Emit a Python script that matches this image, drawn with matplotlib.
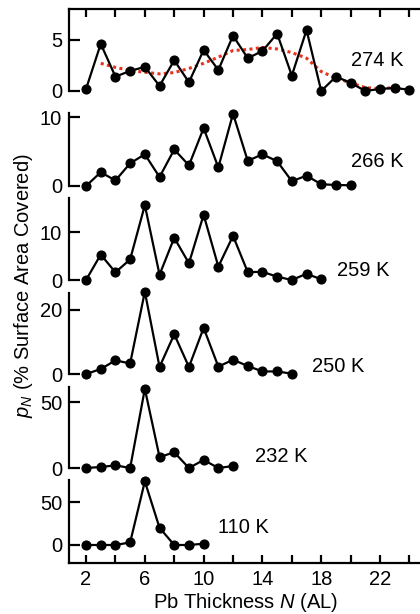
import matplotlib
matplotlib.use("Agg")
import matplotlib.pyplot as plt

plt.rcParams['font.family'] = ['Liberation Sans', 'DejaVu Sans']
plt.rcParams['mathtext.fontset'] = 'custom'
plt.rcParams['mathtext.rm'] = 'Liberation Sans'
plt.rcParams['mathtext.it'] = 'Liberation Sans:italic'
plt.rcParams['mathtext.bf'] = 'Liberation Sans:bold'

# ---------------- data ----------------
N_274 = [2, 3, 4, 5, 6, 7, 8, 9, 10, 11, 12, 13, 14, 15, 16, 17, 18, 19, 20, 21, 22, 23, 24]
p_274 = [0.2, 4.6, 1.4, 1.96, 2.35, 0.5, 3.0, 0.85, 4.0, 2.05, 5.4, 3.2, 3.9, 5.6,
         1.5, 5.95, 0.0, 1.4, 0.8, 0.0, 0.2, 0.3, 0.12]
fit_N_274 = [3, 4, 5, 6, 7, 8, 9, 10, 11, 12, 13, 14, 15, 16, 17, 18, 19, 20, 21, 22, 23]
fit_p_274 = [2.7, 2.3, 2.0, 1.83, 1.67, 1.8, 2.2, 2.7, 3.3, 3.95, 4.05, 4.25, 4.1,
             3.75, 3.2, 1.9, 1.25, 0.8, 0.33, 0.23, 0.33]

N_266 = [2, 3, 4, 5, 6, 7, 8, 9, 10, 11, 12, 13, 14, 15, 16, 17, 18, 19, 20]
p_266 = [0.0, 2.0, 0.8, 3.3, 4.6, 1.3, 5.3, 3.0, 8.4, 2.7, 10.5, 3.65, 4.6, 3.6,
         0.7, 1.5, 0.25, 0.15, 0.1]

N_259 = [2, 3, 4, 5, 6, 7, 8, 9, 10, 11, 12, 13, 14, 15, 16, 17, 18]
p_259 = [0.0, 5.3, 1.6, 4.3, 15.6, 1.1, 8.8, 3.5, 13.6, 2.8, 9.2, 1.65, 1.7, 0.7,
         0.0, 1.3, 0.15]

N_250 = [2, 3, 4, 5, 6, 7, 8, 9, 10, 11, 12, 13, 14, 15, 16]
p_250 = [0.0, 1.55, 4.25, 3.3, 25.7, 2.2, 12.4, 2.2, 14.4, 2.3, 4.45, 2.5, 0.8, 0.8, 0.1]

N_232 = [2, 3, 4, 5, 6, 7, 8, 9, 10, 11, 12]
p_232 = [0.0, 0.75, 2.0, 0.0, 60.0, 8.3, 11.9, 0.0, 6.1, 0.0, 1.5]

N_110 = [2, 3, 4, 5, 6, 7, 8, 9, 10]
p_110 = [0.0, 0.0, 0.0, 3.0, 74.0, 20.0, 0.0, 0.0, 1.5]

temps = ["274 K", "266 K", "259 K", "250 K", "232 K", "110 K"]
yticks = [[0, 5], [0, 10], [0, 10], [0, 20], [0, 50], [0, 50]]
xticks_major = [2, 6, 10, 14, 18, 22]
xticks_all = [2, 4, 6, 8, 10, 12, 14, 16, 18, 20, 22, 24]

series = [(N_274, p_274), (N_266, p_266), (N_259, p_259),
          (N_250, p_250), (N_232, p_232), (N_110, p_110)]

# ---------------- layout (pixels) ----------------
W, H = 420, 614
fig = plt.figure(figsize=(W / 100, H / 100), dpi=100)

left_px, right_px = 69, 420
xlim = (0.84, 24.72)
# (top px, zero px, bottom px, ymax value)
panels = [
    (9, 91, 101, 8.0),
    (113, 186, 196, 10.6),
    (198, 280, 290, 17.1),
    (293, 374, 384, 25.3),
    (387, 468, 478, 61.4),
    (480, 545, 563, 75.6),
]
# label positions in data coords (x, y)
label_pos = [(20.0, 3.0), (20.0, 3.5), (19.1, 1.9), (17.4, 2.2), (13.5, 9.0), (11.0, 20.0)]

FS = 14.5
LW = 1.6
for i, ((top, zero, bot, ymax), (xs, ys)) in enumerate(zip(panels, series)):
    ax = fig.add_axes([left_px / W, 1 - bot / H, (right_px - left_px) / W, (bot - top) / H])
    ax.patch.set_alpha(0)
    scale = (zero - top) / ymax
    ymin = -(bot - zero) / scale
    ax.set_xlim(*xlim)
    ax.set_ylim(ymin, ymax)

    ax.spines['right'].set_visible(False)
    ax.spines['left'].set_linewidth(LW)
    ax.spines['top'].set_linewidth(LW)
    ax.spines['bottom'].set_linewidth(LW)
    ax.spines['top'].set_visible(i == 0)
    if i == 5:
        ax.spines['bottom'].set_visible(True)
        ax.spines['left'].set_bounds(ymin, ymax)
    else:
        ax.spines['bottom'].set_visible(False)
        ax.spines['left'].set_bounds(0, ymax)

    ax.set_yticks(yticks[i])
    ax.tick_params(axis='y', direction='in', length=8, width=LW, pad=5, labelsize=FS)

    if i == 0:
        ax.set_xticks(xticks_all)
        ax.tick_params(axis='x', which='both', bottom=False, labelbottom=False,
                       top=True, direction='in', length=5.5, width=LW)
    elif i == 5:
        ax.set_xticks(xticks_all)
        ax.set_xticklabels([str(t) if t in xticks_major else '' for t in xticks_all])
        ax.tick_params(axis='x', direction='in', length=5.5, width=LW, pad=5, labelsize=FS)
    else:
        ax.set_xticks([])

    if i == 0:
        ax.plot(fit_N_274, fit_p_274, linestyle=(0, (1, 1.1)), color='#e8321e',
                linewidth=2.2, zorder=3, clip_on=False)
    ax.plot(xs, ys, '-o', color='black', linewidth=LW, markersize=6.3,
            zorder=4, clip_on=False)

    lx, ly = label_pos[i]
    ax.text(lx, ly, temps[i], fontsize=FS, ha='left', va='center')

fig.text(24 / W, 1 - 286 / H, r"$p_N$ (% Surface Area Covered)", rotation=90,
         ha='center', va='center', fontsize=FS)
fig.text(246 / W, 1 - 602 / H, r"Pb Thickness $N$ (AL)", ha='center', va='center',
         fontsize=FS)

fig.savefig("out.png", dpi=100)
